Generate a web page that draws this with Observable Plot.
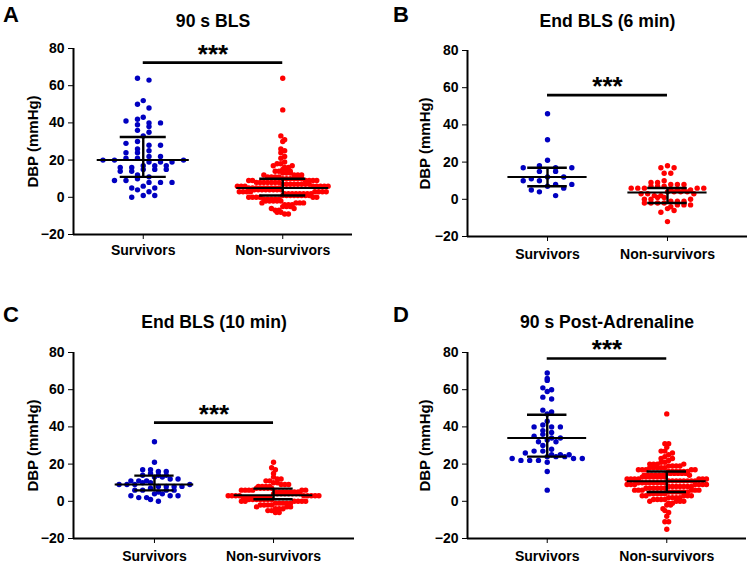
<!DOCTYPE html>
<html><head><meta charset="utf-8">
<script src="https://cdn.jsdelivr.net/npm/d3@7"></script>
<script src="https://cdn.jsdelivr.net/npm/@observablehq/plot@0.6"></script>
<style>
body{margin:0;background:#fff;font-family:"Liberation Sans",Arial,sans-serif;}
#wrap{position:relative;width:750px;height:564px;overflow:hidden;background:#fff;}
.panel{position:absolute;}
.letter{position:absolute;font-weight:bold;font-size:22px;line-height:22px;color:#000;}
</style></head><body><div id="wrap"></div>
<script>
const groups = ["Survivors", "Non-survivors"];
const letters = ["A", "B", "C", "D"];
const titles = ["90 s BLS", "End BLS (6 min)", "End BLS (10 min)", "90 s Post-Adrenaline"];
const yLabel = "DBP (mmHg)";
const yTicks = [-20, 0, 20, 40, 60, 80];
const sigText = "***";

// Panel A: 90 s BLS
const aSurvivors = [64, 63, 52, 50, 48, 43, 42, 41, 40, 40, 39, 38, 36, 35, 33, 30, 29, 28, 28, 26, 25, 24, 24, 22, 22, 21, 21, 20, 20, 20, 19, 19, 19, 17, 17, 17, 16, 16, 15, 15, 15, 14, 14, 12, 11, 10, 9, 9, 8, 8, 8, 6, 5, 5, 4, 3, 1, 1, 0];
const aNonSurvivors = [64, 47, 33, 31, 30, 26, 25, 24, 22, 21, 19, 18, 18, 17, 17, 16, 16, 15, 15, 14, 14, 14, 13, 13, 13, 12, 12, 12, 12, 11, 11, 11, 11,
  10, 10, 10, 10, 10, 10, 9, 9, 9, 9, 9, 9, 8, 8, 8, 8, 8, 8, 8, 7, 7, 7, 7, 7, 7, 7, 7, 6, 6, 6, 6, 6, 6, 6, 6,
  5, 5, 5, 5, 5, 5, 5, 5, 5, 4, 4, 4, 4, 4, 4, 4, 4, 3, 3, 3, 3, 3, 3, 3, 3, 2, 2, 2, 2, 2, 2, 2, 2, 1, 1, 1, 1, 1, 1, 1, 1,
  0, 0, 0, 0, 0, 0, -1, -1, -1, -1, -1, -2, -2, -2, -2, -2, -3, -3, -3, -3, -4, -4, -4, -5, -5, -5, -6, -6, -7, -7, -8, -8, -9, -9];
// Panel B: End BLS (6 min)
const bSurvivors = [46, 32, 21, 18, 17, 17, 17, 15, 15, 12, 12, 11, 10, 10, 8, 8, 7, 6, 5, 4, 2];
const bNonSurvivors = [18, 17, 17, 14, 14, 10, 9, 9, 8, 8, 8, 7, 7, 7, 6, 6, 6, 6, 6, 5, 5, 5, 5, 4, 4, 4, 4, 3, 3, 3, 2, 2, 1, 1, 0, 0, 0, -1, -1, -1, -2, -2, -2, -2, -3, -3, -3, -4, -5, -6, -7, -12];
// Panel C: End BLS (10 min)
const cSurvivors = [32, 21, 17, 17, 16, 16, 15, 14, 14, 14, 13, 13, 12, 12, 11, 11, 11, 10, 10, 9, 9, 9, 9, 8, 8, 8, 8, 7, 6, 6, 6, 6, 5, 4, 4, 3, 3, 3, 2, 2, 1, 0];
const cNonSurvivors = [21, 18, 17, 15, 13, 12, 12, 11, 11, 10, 10, 9, 9, 9, 8, 8, 8, 8, 7, 7, 7, 7, 7, 6, 6, 6, 6, 6, 6,
  5, 5, 5, 5, 5, 5, 5, 4, 4, 4, 4, 4, 4, 4, 4, 3, 3, 3, 3, 3, 3, 3, 3, 3, 2, 2, 2, 2, 2, 2, 2, 2, 1, 1, 1, 1, 1, 1, 1,
  0, 0, 0, 0, 0, 0, -1, -1, -1, -1, -1, -2, -2, -2, -2, -3, -3, -3, -4, -4, -4, -5, -5, -6, -6];
// Panel D: 90 s Post-Adrenaline
const dSurvivors = [69, 66, 65, 61, 60, 59, 56, 55, 49, 48, 47, 43, 41, 40, 40, 40, 38, 37, 36, 35, 34, 34, 33, 32, 32, 30, 28, 27, 27, 26, 25, 25, 25, 24, 24, 24, 23, 23, 23, 22, 22, 22, 21, 16, 6];
const dNonSurvivors = [47, 31, 31, 29, 27, 27, 26, 25, 24, 23, 23, 22, 21, 21, 20, 20, 20, 20, 19, 19, 19, 19, 18, 18, 18, 18, 18, 17, 17, 17, 17, 17,
  16, 16, 16, 16, 16, 16, 15, 15, 15, 15, 15, 15, 14, 14, 14, 14, 14, 14, 14, 13, 13, 13, 13, 13, 13, 13, 12, 12, 12, 12, 12, 12, 12,
  11, 11, 11, 11, 11, 11, 11, 11, 10, 10, 10, 10, 10, 10, 10, 10, 9, 9, 9, 9, 9, 9, 9, 8, 8, 8, 8, 8, 8, 8, 7, 7, 7, 7, 7, 7,
  6, 6, 6, 6, 6, 6, 5, 5, 5, 5, 5, 5, 4, 4, 4, 4, 4, 3, 3, 3, 3, 3, 2, 2, 2, 2, 1, 1, 1, 1, 0, 0, 0, 0, -1, -1, -2, -2, -4, -5, -6, -8, -11, -11, -15];

// Median and interquartile range [Survivors, Non-survivors]
const medians = [[20, 5], [12, 3.6], [9, 3.2], [34, 10.8]];
const q1s = [[11, 1], [7, -2], [5.9, 1.1], [24, 5]];
const q3s = [[32.4, 10], [17, 6.1], [13.8, 6.8], [46.5, 16]];
// Significance bar and label heights (data units)
const sigBarY = [72.4, 56, 42.3, 76.8];
const sigTextY = [76.6, 60.6, 46.6, 81.6];

const colors = ["#0000c0", "#ff0000"];

const layouts = [
  {left: 0, top: 0, mt: 48, mb: 48, ml: 73, mr: 23, pad: 0.5, xtp: 6, titleDy: -27, labDx: -40, lx: 3, ly: 4},
  {left: 375, top: 0, mt: 50, mb: 46, ml: 92, mr: 3, pad: 0.667, xtp: 8, titleDy: -29, labDx: -42, lx: 393, ly: 4},
  {left: 0, top: 282, mt: 70, mb: 26, ml: 73, mr: 21, pad: 0.68, xtp: 8, titleDy: -30, labDx: -40, lx: 3, ly: 304},
  {left: 375, top: 282, mt: 70, mb: 26, ml: 92, mr: 4, pad: 0.667, xtp: 8, titleDy: -30, labDx: -42, lx: 393, ly: 304}
];
const series = [[aSurvivors, aNonSurvivors], [bSurvivors, bNonSurvivors], [cSurvivors, cNonSurvivors], [dSurvivors, dNonSurvivors]];

const R = 2.7;
// Prism-like column scatter: bin values into rows, spread each row horizontally
function rowScatter(values, pxPerUnit, targetW) {
  const binH = 2 * R;
  const rows = d3.group(d3.range(values.length), i => Math.round(-values[i] * pxPerUnit / binH));
  const maxN = d3.max(rows.values(), r => r.length);
  const s = Math.max(2 * R * 0.7, Math.min(2 * R * 3, targetW / maxN));
  const off = new Array(values.length).fill(0);
  for (const idx of rows.values()) {
    const n = idx.length;
    const slots = d3.range(n).map(k => (k - (n - 1) / 2) * s);
    slots.sort((a, b) => Math.abs(a) - Math.abs(b) || a - b);
    const sorted = idx.slice().sort((a, b) => values[a] - values[b] || a - b);
    const order = [];
    let lo = 0, hi = sorted.length - 1, t = 0;
    while (lo <= hi) order.push(t++ % 2 ? sorted[lo++] : sorted[hi--]);
    order.forEach((i, k) => { off[i] = slots[k]; });
  }
  return off;
}

const wrap = document.getElementById("wrap");
layouts.forEach((L, p) => {
  const W = 375, H = 282;
  const frameW = W - L.ml - L.mr, frameH = H - L.mt - L.mb;
  const stepPx = frameW / (1 + 2 * L.pad);
  const pxPerUnit = frameH / 100;
  const pts = [[], []];
  series[p].forEach((vals, g) => {
    const off = rowScatter(vals, pxPerUnit, 0.66 * stepPx);
    vals.forEach((v, j) => pts[g].push({x: g + off[j] / stepPx, v}));
  });
  const stats = [0, 1].map(g => ({g, med: medians[p][g], q1: q1s[p][g], q3: q3s[p][g]}));
  const chart = Plot.plot({
    width: W, height: H,
    marginTop: L.mt, marginBottom: L.mb, marginLeft: L.ml, marginRight: L.mr,
    style: {fontFamily: "'Liberation Sans', Arial, sans-serif", fontSize: "14px", fontWeight: "bold", color: "#000", background: "transparent", overflow: "visible"},
    x: {domain: [-L.pad, 1 + L.pad], ticks: [0, 1], tickFormat: i => groups[i], tickSize: 5, tickPadding: L.xtp, label: null},
    y: {domain: [-20, 80], ticks: yTicks, tickSize: 5, tickPadding: 4, label: null},
    marks: [
      Plot.dot(pts[0], {x: "x", y: "v", r: R, fill: colors[0], stroke: "none"}),
      Plot.dot(pts[1], {x: "x", y: "v", r: R, fill: colors[1], stroke: "none"}),
      Plot.ruleY(stats, {y: "med", x1: d => d.g - 0.33, x2: d => d.g + 0.33, stroke: "#000", strokeWidth: 2}),
      Plot.ruleY(stats, {y: "q1", x1: d => d.g - 0.165, x2: d => d.g + 0.165, stroke: "#000", strokeWidth: 2.4}),
      Plot.ruleY(stats, {y: "q3", x1: d => d.g - 0.165, x2: d => d.g + 0.165, stroke: "#000", strokeWidth: 2.4}),
      Plot.ruleX(stats, {x: "g", y1: "q1", y2: "q3", stroke: "#000", strokeWidth: 2.4}),
      Plot.ruleX([-L.pad], {stroke: "#000", strokeWidth: 2}),
      Plot.ruleY([-20], {stroke: "#000", strokeWidth: 2}),
      Plot.ruleY([sigBarY[p]], {x1: 0, x2: 1, stroke: "#000", strokeWidth: 2.6}),
      Plot.text([sigText], {x: 0.5, y: sigTextY[p], fontSize: 26, fontWeight: "bold", fill: "#000", lineAnchor: "middle"}),
      Plot.text([titles[p]], {frameAnchor: "top", dy: L.titleDy, fontSize: 17.6, fontWeight: "bold", fill: "#000", lineAnchor: "middle", textAnchor: "middle"}),
      Plot.text([yLabel], {frameAnchor: "left", dx: L.labDx, rotate: -90, fontSize: 15, fontWeight: "bold", fill: "#000", textAnchor: "middle", lineAnchor: "middle"})
    ]
  });
  const div = document.createElement("div");
  div.className = "panel";
  div.style.left = L.left + "px";
  div.style.top = L.top + "px";
  div.appendChild(chart);
  wrap.appendChild(div);
  const lt = document.createElement("div");
  lt.className = "letter";
  lt.textContent = letters[p];
  lt.style.left = L.lx + "px";
  lt.style.top = L.ly + "px";
  wrap.appendChild(lt);
});
</script>
</body></html>
